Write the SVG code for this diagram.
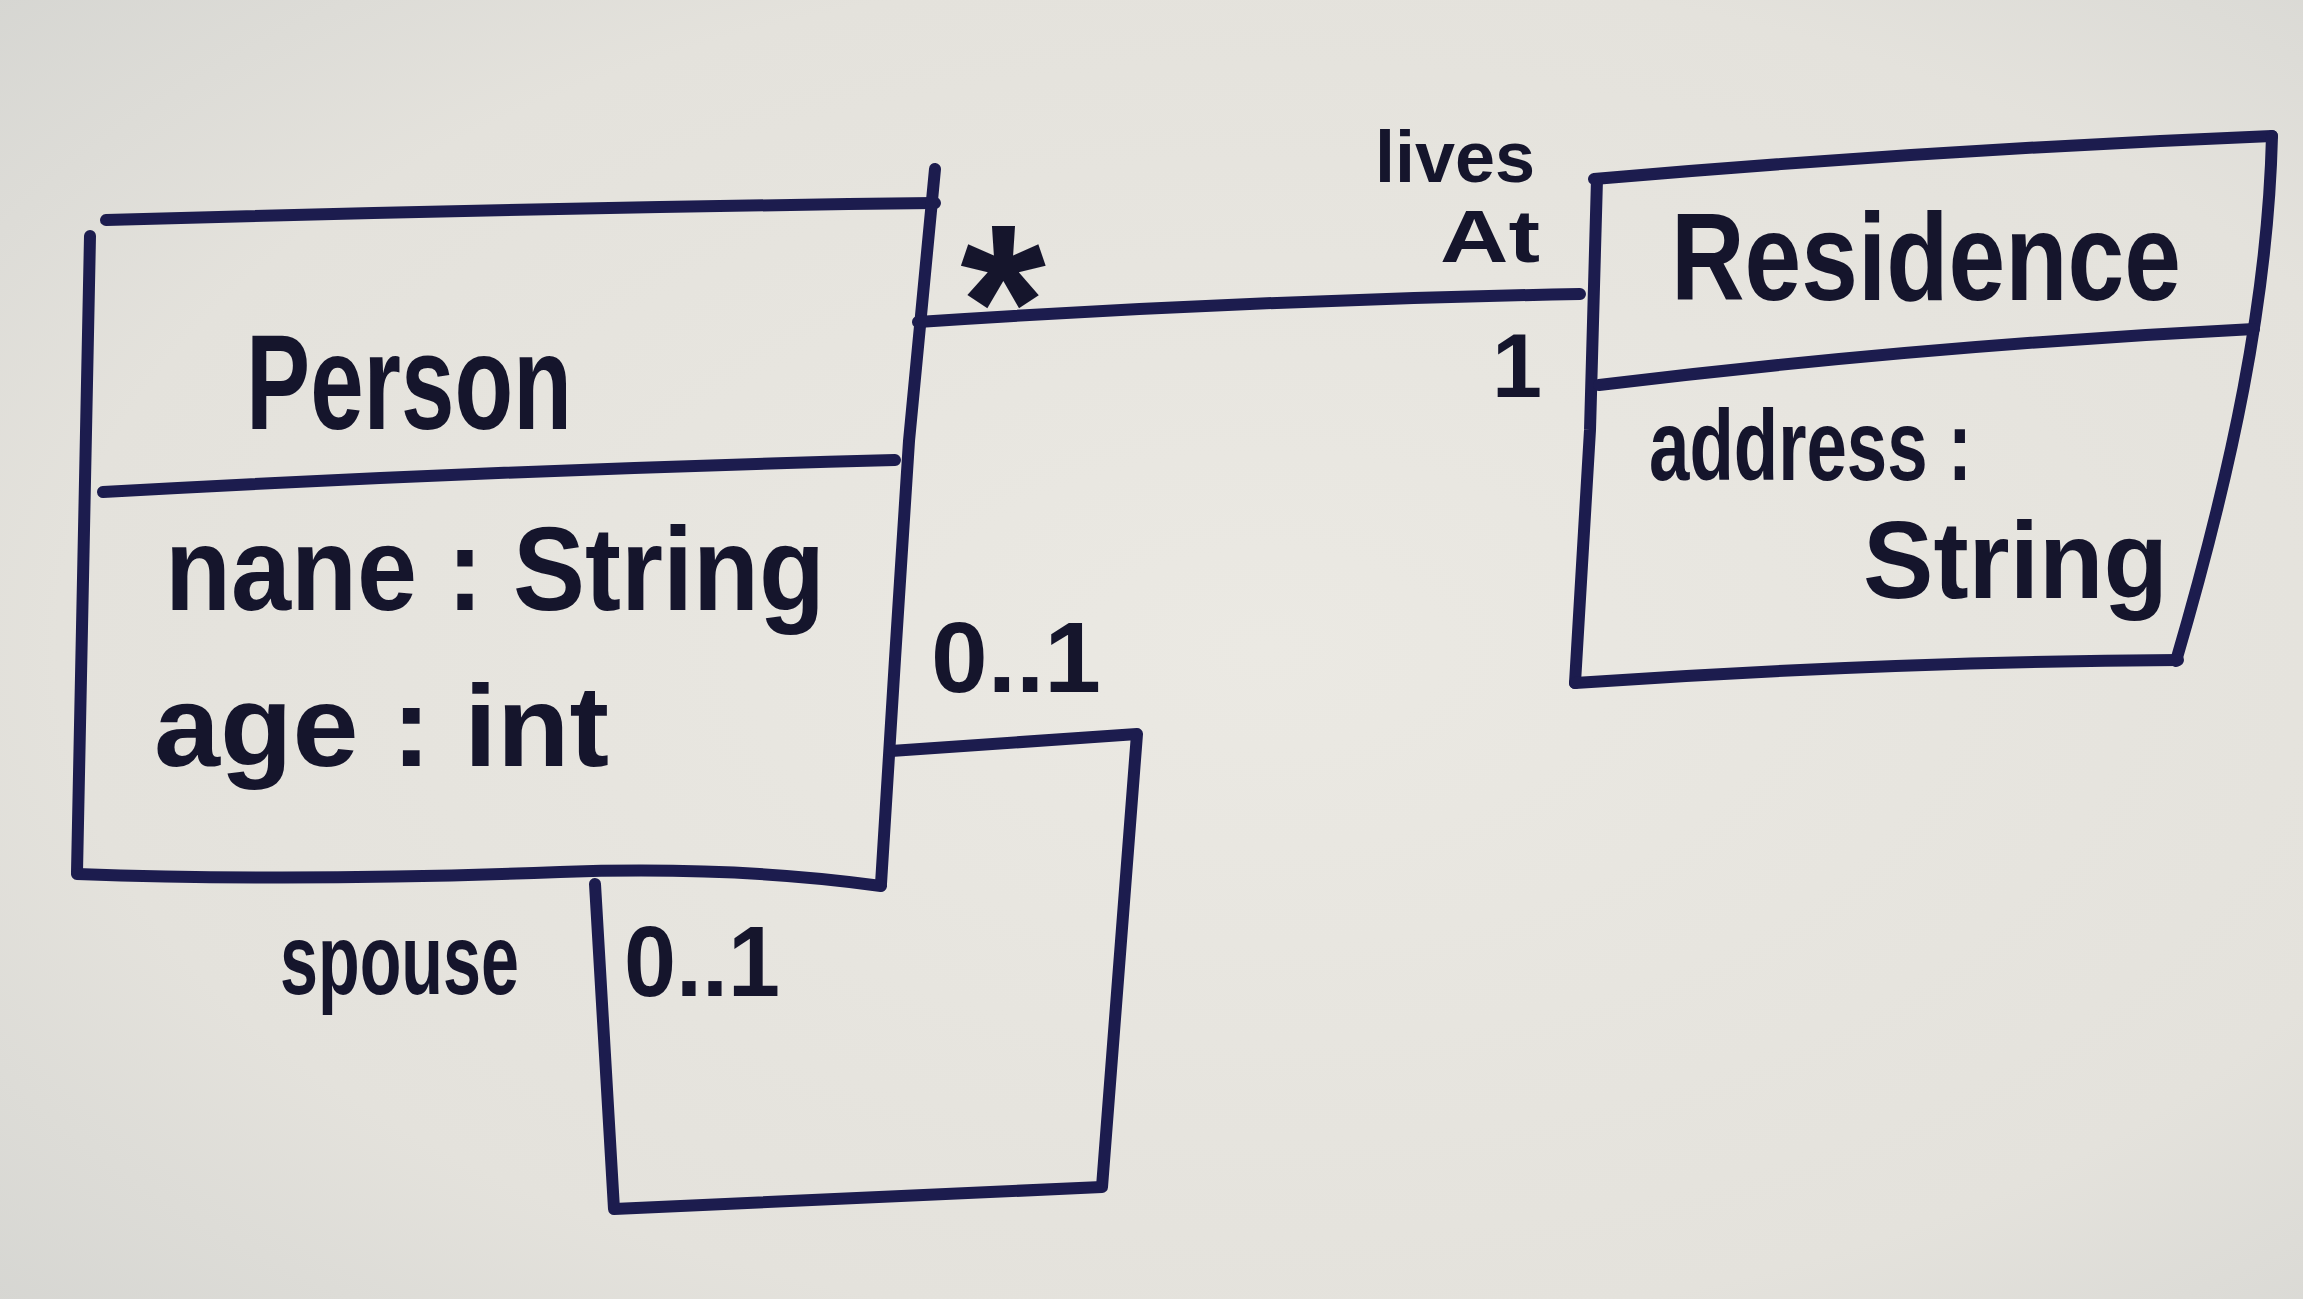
<svg xmlns="http://www.w3.org/2000/svg" width="2303" height="1299" viewBox="0 0 2303 1299">
  <defs>
    <radialGradient id="paper" cx="0.55" cy="0.5" r="0.75">
      <stop offset="0" stop-color="#ebe9e3"/>
      <stop offset="0.7" stop-color="#e4e2dc"/>
      <stop offset="1" stop-color="#d6d6d2"/>
    </radialGradient>
    <style>
      .ln { fill: none; stroke: #1c1c4e; stroke-width: 12; stroke-linecap: round; stroke-linejoin: round; }
      .tx { font-family: "Liberation Sans", Arial, sans-serif; font-weight: bold; fill: #15152c; }
    </style>
  </defs>
  <rect width="2303" height="1299" fill="url(#paper)"/>

  <g id="person">
    <path class="ln" d="M106,220 Q520,208 935,203"/>
    <path class="ln" d="M935,169 L909,441 L895,659 L881,884"/>
    <path class="ln" d="M90,236 Q84,560 77,872"/>
    <path class="ln" d="M77,874 Q300,882 560,872 Q740,866 881,886"/>
    <path class="ln" d="M103,492 Q500,470 895,460"/>
    <text class="tx" x="246" y="429" font-size="135" textLength="326" lengthAdjust="spacingAndGlyphs">Person</text>
    <text class="tx" x="165" y="610" font-size="118" textLength="660" lengthAdjust="spacingAndGlyphs">nane : String</text>
    <text class="tx" x="154" y="766" font-size="115" textLength="455" lengthAdjust="spacingAndGlyphs">age : int</text>
  </g>

  <g id="residence">
    <path class="ln" d="M1594,179 Q1930,150 2272,136"/>
    <path class="ln" d="M2272,136 C2268,300 2232,470 2176,661"/>
    <path class="ln" d="M1597,179 L1590,430 L1575,683"/>
    <path class="ln" d="M1575,683 Q1880,662 2178,660"/>
    <path class="ln" d="M1599,385 Q1930,345 2254,329"/>
    <text class="tx" x="1671" y="300" font-size="125" textLength="510" lengthAdjust="spacingAndGlyphs">Residence</text>
    <text class="tx" x="1649" y="480" font-size="100" textLength="323" lengthAdjust="spacingAndGlyphs">address :</text>
    <text class="tx" x="1863" y="598" font-size="110" textLength="305" lengthAdjust="spacingAndGlyphs">String</text>
  </g>

  <g id="connectors">
    <path id="livesAt" class="ln" d="M918,322 Q1250,300 1580,294"/>
    <path id="spouse" class="ln" d="M891,751 L1137,734 L1102,1187 L614,1209 L595,884"/>
  </g>

  <g id="labels">
    <text class="tx" x="1003" y="378" font-size="220" text-anchor="middle">*</text>
    <text class="tx" x="1375" y="182" font-size="72">lives</text>
    <text class="tx" x="1440" y="262" font-size="74" textLength="100" lengthAdjust="spacingAndGlyphs">At</text>
    <text class="tx" x="1517" y="397" font-size="90" text-anchor="middle">1</text>
    <text class="tx" x="931" y="692" font-size="100" textLength="170" lengthAdjust="spacingAndGlyphs">0..1</text>
    <text class="tx" x="624" y="996" font-size="100" textLength="156" lengthAdjust="spacingAndGlyphs">0..1</text>
    <text class="tx" x="280" y="994" font-size="100" textLength="239" lengthAdjust="spacingAndGlyphs">spouse</text>
  </g>
</svg>
